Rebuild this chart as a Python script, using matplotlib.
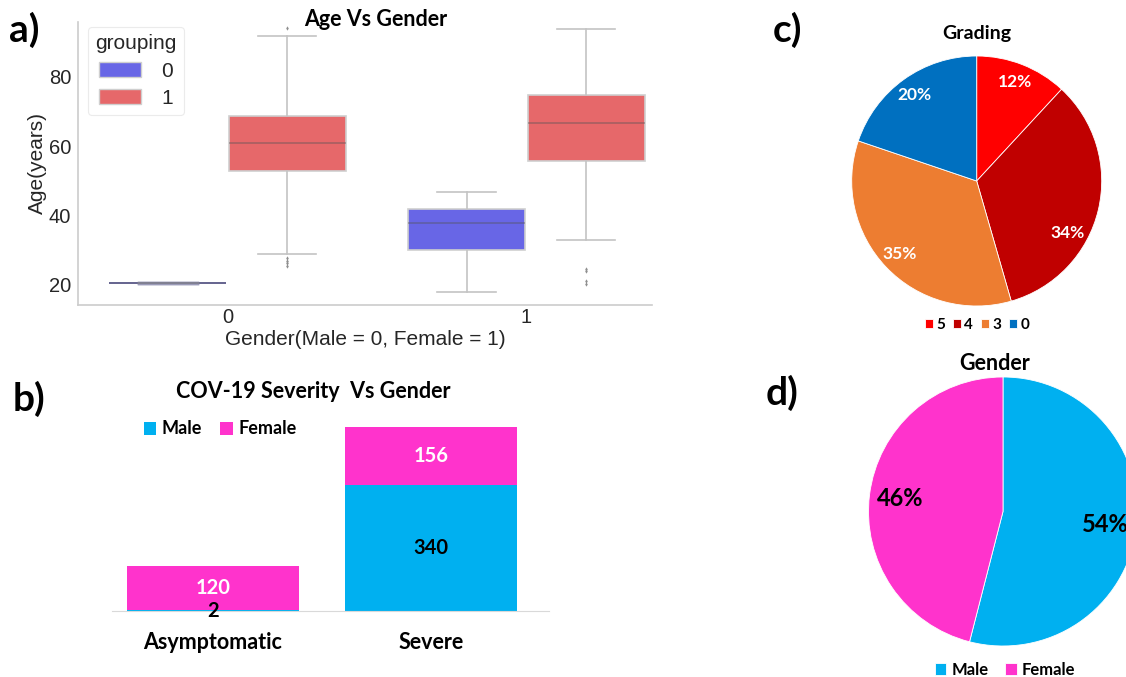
import matplotlib
matplotlib.use('Agg')
import matplotlib.pyplot as plt
from matplotlib.patches import Patch

# ---------------- data ----------------
# a) Age vs Gender box statistics, indexed [gender][grouping]
gender_ticks = ['0', '1']
grouping_levels = ['0', '1']
age_q1 = [[20.5, 52.8], [30.1, 55.8]]
age_med = [[20.5, 60.8], [37.9, 66.7]]
age_q3 = [[20.5, 68.6], [41.9, 74.7]]
age_whislo = [[20.5, 28.9], [18.1, 32.9]]
age_whishi = [[20.5, 91.7], [46.8, 93.6]]
age_fliers = [[[], [27.8, 26.9, 26.2, 25.5, 93.9]],
              [[], [24.7, 23.9, 21.2, 20.3]]]
age_yticks = [20, 40, 60, 80]

# b) COV-19 severity vs gender
severity_cats = ['Asymptomatic', 'Severe']
male_counts = [2, 340]
female_counts = [120, 156]

# c) Grading
grading_labels = ['5', '4', '3', '0']
grading_pct = [12, 34, 35, 20]

# d) Gender
gender_labels = ['Male', 'Female']
gender_pct = [54, 46]

# ---------------- style ----------------
W, H = 1126, 677
fig = plt.figure(figsize=(W / 100, H / 100), dpi=100)
SANS = ['Liberation Sans', 'DejaVu Sans']
BOLD = ['Lato', 'DejaVu Sans']

def ax_px(l, t, r, b):
    return fig.add_axes([l / W, 1 - b / H, (r - l) / W, (b - t) / H])

BLUE_BOX = '#6866E6'
RED_BOX = '#E6686A'
MALE = '#00B0F0'
FEMALE = '#FF33CC'
GRADE_COLORS = ['#FF0000', '#C00000', '#ED7D31', '#0070C0']

# ---------------- a) box plot ----------------
ax = ax_px(78, 22, 652, 305)
box_colors = [BLUE_BOX, RED_BOX]
offsets = [-0.2, 0.2]
for g in range(len(gender_ticks)):
    for k in range(len(grouping_levels)):
        st = [dict(q1=age_q1[g][k], med=age_med[g][k], q3=age_q3[g][k],
                   whislo=age_whislo[g][k], whishi=age_whishi[g][k],
                   fliers=age_fliers[g][k])]
        flat = age_q1[g][k] == age_q3[g][k]
        edge = '#5a58a8' if flat else '#cfcfcf'
        ax.bxp(st, positions=[g + offsets[k]], widths=0.39, patch_artist=True,
               showfliers=True, manage_ticks=False,
               boxprops=dict(facecolor=box_colors[k], edgecolor=edge, linewidth=1.2),
               whiskerprops=dict(color='#c4c4c4', linewidth=1.2),
               capprops=dict(color='#9a9ab8' if flat else '#c4c4c4',
                             linewidth=2.5 if flat else 1.2),
               medianprops=dict(color='#555555', alpha=0.45, linewidth=1.2),
               flierprops=dict(marker='d', markersize=2.2, markerfacecolor='#8f8f8f',
                               markeredgecolor='none'))
ax.set_xlim(-0.5, 1.42)
ax.set_ylim(14.24, 95.7)
ax.set_xticks(range(len(gender_ticks)))
ax.set_xticklabels(gender_ticks)
ax.set_yticks(age_yticks)
for s in ['top', 'right']:
    ax.spines[s].set_visible(False)
for s in ['left', 'bottom']:
    ax.spines[s].set_color('#cccccc')
    ax.spines[s].set_linewidth(1.2)
ax.tick_params(axis='y', length=0, labelsize=14.5, labelcolor='#262626', pad=5)
ax.tick_params(axis='x', length=0, labelsize=14.5, labelcolor='#262626', pad=2)
for lab in ax.get_xticklabels() + ax.get_yticklabels():
    lab.set_family(SANS)
ax.set_xlabel('Gender(Male = 0, Female = 1)', fontsize=15, color='#262626',
              family=SANS, labelpad=2)
ax.set_ylabel('Age(years)', fontsize=15, color='#262626', family=SANS, labelpad=1)
handles = [Patch(facecolor=c, edgecolor='#cfcfcf') for c in box_colors]
leg = ax.legend(handles, grouping_levels, title='grouping', loc='upper left',
                bbox_to_anchor=(10 / 574, 1 - 5 / 283), borderaxespad=0,
                prop=dict(family=SANS, size=15),
                title_fontproperties=dict(family=SANS, size=15),
                frameon=True, fancybox=True, edgecolor='#e6e6e6', handlelength=2.0,
                handleheight=0.7, borderpad=0.35, labelspacing=0.4, handletextpad=1.0)
leg.get_frame().set_linewidth(0.8)
for t in leg.get_texts() + [leg.get_title()]:
    t.set_color('#262626')
fig.text(376 / W, 1 - 20 / H, 'Age Vs Gender', ha='center', va='center',
         fontsize=15.5, fontweight='bold', family=BOLD)

# ---------------- b) stacked bars ----------------
axb = ax_px(112, 410, 549, 611)
xb = list(range(len(severity_cats)))
bm = axb.bar(xb, male_counts, width=0.785, color=MALE, label='Male')
bf = axb.bar(xb, female_counts, width=0.785, bottom=male_counts, color=FEMALE,
             label='Female')
axb.bar_label(bm, label_type='center', color='black', fontsize=14.5,
              fontweight='bold', family=BOLD)
axb.bar_label(bf, label_type='center', color='white', fontsize=14.5,
              fontweight='bold', family=BOLD)
axb.set_xlim(-0.463, 1.541)
axb.set_ylim(0, 543)
axb.set_yticks([])
axb.set_xticks(xb)
axb.set_xticklabels(severity_cats, fontsize=15.5, fontweight='bold', family=BOLD)
axb.tick_params(length=0, pad=15)
for s in ['top', 'right', 'left']:
    axb.spines[s].set_visible(False)
axb.spines['bottom'].set_color('#d9d9d9')
axb.spines['bottom'].set_linewidth(0.8)
axb.legend(loc='center', bbox_to_anchor=(220 / W, 1 - 429 / H),
           bbox_transform=fig.transFigure, ncol=2, frameon=False,
           prop=dict(family=BOLD, size=13, weight='bold'),
           handlelength=0.7, handleheight=0.7, handletextpad=0.3, columnspacing=1.0)
fig.text(313 / W, 1 - 392 / H, 'COV-19 Severity  Vs Gender', ha='center', va='center',
         fontsize=15.5, fontweight='bold', family=BOLD)

# ---------------- c) grading pie ----------------
r = 125
axc = ax_px(976.7 - r, 181 - r, 976.7 + r, 181 + r)
wc, _, tc = axc.pie(grading_pct, colors=GRADE_COLORS, startangle=90, counterclock=False,
                    autopct=lambda p: f'{p:.0f}%', pctdistance=0.85,
                    wedgeprops=dict(edgecolor='white', linewidth=0.6),
                    textprops=dict(color='white', fontsize=12.5, fontweight='bold',
                                   family=BOLD))
tc[1].set_position((0.73, -0.42))
axc.set_xlim(-1, 1)
axc.set_ylim(-1, 1)
axc.set_aspect('equal')
fig.text(977 / W, 1 - 34 / H, 'Grading', ha='center', va='center',
         fontsize=14, fontweight='bold', family=BOLD)
fig.legend(wc, grading_labels, loc='center', bbox_to_anchor=(977 / W, 1 - 325 / H),
           ncol=4, frameon=False, prop=dict(family=BOLD, size=11, weight='bold'),
           handlelength=0.55, handleheight=0.55, handletextpad=0.2, columnspacing=0.5)

# ---------------- d) gender pie ----------------
r2 = 134.5
axd = ax_px(1003 - r2, 511.5 - r2, 1003 + r2, 511.5 + r2)
wd, _, td = axd.pie(gender_pct, colors=[MALE, FEMALE], startangle=90, counterclock=False,
                    autopct=lambda p: f'{p:.0f}%', pctdistance=0.77,
                    wedgeprops=dict(edgecolor='white', linewidth=0.6),
                    textprops=dict(color='black', fontsize=17, fontweight='bold',
                                   family=BOLD))
axd.set_xlim(-1, 1)
axd.set_ylim(-1, 1)
axd.set_aspect('equal')
fig.text(995 / W, 1 - 363 / H, 'Gender', ha='center', va='center',
         fontsize=15.5, fontweight='bold', family=BOLD)
fig.legend(wd, gender_labels, loc='center', bbox_to_anchor=(1005 / W, 1 - 670 / H),
           ncol=2, frameon=False, prop=dict(family=BOLD, size=12, weight='bold'),
           handlelength=0.7, handleheight=0.7, handletextpad=0.3, columnspacing=1.0)

# ---------------- panel letters ----------------
for txt, x, y in [('a)', 9, 30), ('b)', 13, 399), ('c)', 773, 30), ('d)', 766, 393)]:
    fig.text(x / W, 1 - y / H, txt, ha='left', va='center', fontsize=28,
             fontweight='bold', family=BOLD)

fig.savefig('out.png', dpi=100)
